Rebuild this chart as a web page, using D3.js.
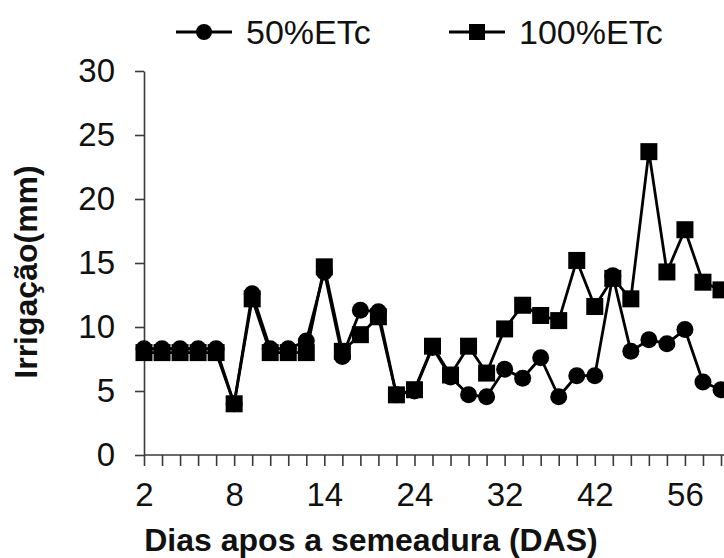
<!DOCTYPE html>
<html>
<head>
<meta charset="utf-8">
<script src="https://cdn.jsdelivr.net/npm/d3@7"></script>
<style>
  html, body { margin: 0; padding: 0; background: #fff; }
  svg { display: block; }
  text { font-family: "Liberation Sans", Arial, sans-serif; }
</style>
</head>
<body>
<svg id="chart" width="724" height="558"></svg>
<script>
// ---- data ----
const categoryIndex = d3.range(33); // sampling dates (DAS), evenly spaced categories
const tickLabels = ["2", "8", "14", "24", "32", "42", "56"];
const tickLabelIndex = [0, 5, 10, 15, 20, 25, 30];
const etc50 = [8.3, 8.3, 8.3, 8.3, 8.3, 4.0, 12.6, 8.3, 8.3, 8.9, 14.3, 7.7, 11.3, 11.2, 4.7, 5.0, 8.4,
               6.1, 4.7, 4.55, 6.7, 6.0, 7.6, 4.55, 6.2, 6.2, 14.0, 8.1, 9.0, 8.7, 9.8, 5.7, 5.1];
const etc100 = [8.0, 8.0, 8.0, 8.0, 8.0, 4.0, 12.2, 8.0, 8.0, 8.0, 14.7, 8.1, 9.4, 10.8, 4.7, 5.1, 8.5,
                6.25, 8.5, 6.4, 9.85, 11.7, 10.9, 10.5, 15.2, 11.6, 13.8, 12.2, 23.7, 14.3, 17.6, 13.5, 12.9];
const yTicks = [0, 5, 10, 15, 20, 25, 30];
const seriesNames = ["50%ETc", "100%ETc"];

// ---- layout ----
const svg = d3.select("#chart");
const x = d3.scaleLinear().domain([0, 32]).range([144, 721]);
const y = d3.scaleLinear().domain([0, 30]).range([455, 71]);
const axisColor = "#3a3a3a";

// x axis
const allTicks = d3.range(0, 34);
const xAxis = d3.axisBottom(x)
  .tickValues(allTicks)
  .tickSize(11)
  .tickSizeOuter(0)
  .tickPadding(17)
  .tickFormat(d => {
    const k = tickLabelIndex.indexOf(d);
    return k >= 0 ? tickLabels[k] : "";
  });
const gx = svg.append("g").attr("transform", "translate(0,455)").call(xAxis);
gx.select(".domain").attr("d", "M144,0H740");
gx.selectAll("line").attr("stroke", axisColor).attr("stroke-width", 1.6);
gx.select(".domain").attr("stroke", axisColor).attr("stroke-width", 1.6);
gx.selectAll("text").attr("font-size", 33).attr("fill", "#111").attr("font-family", "Liberation Sans, Arial, sans-serif");

// y axis
const yAxis = d3.axisLeft(y).tickValues(yTicks).tickSize(9).tickSizeOuter(0).tickPadding(20);
const gy = svg.append("g").attr("transform", "translate(144,0)").call(yAxis);
gy.selectAll("line").attr("stroke", axisColor).attr("stroke-width", 1.6);
gy.select(".domain").attr("stroke", axisColor).attr("stroke-width", 1.6);
gy.selectAll("text").attr("font-size", 33).attr("fill", "#111").attr("font-family", "Liberation Sans, Arial, sans-serif");

// axis titles
svg.append("text")
  .attr("x", 371).attr("y", 551)
  .attr("text-anchor", "middle")
  .attr("font-size", 32).attr("font-weight", "bold").attr("fill", "#111")
  .text("Dias apos a semeadura (DAS)");
svg.append("text")
  .attr("transform", "translate(37,272) rotate(-90)")
  .attr("text-anchor", "middle")
  .attr("font-size", 32).attr("font-weight", "bold").attr("fill", "#111")
  .text("Irrigação(mm)");

// lines
const line = d3.line().x((d, i) => x(categoryIndex[i])).y(d => y(d));
const plot = svg.append("g");
plot.append("path").datum(etc50).attr("d", line)
  .attr("fill", "none").attr("stroke", "#000").attr("stroke-width", 2.8).attr("stroke-linejoin", "round");
plot.append("path").datum(etc100).attr("d", line)
  .attr("fill", "none").attr("stroke", "#000").attr("stroke-width", 2.8).attr("stroke-linejoin", "round");

// markers
plot.selectAll("circle.m50").data(etc50).join("circle")
  .attr("class", "m50")
  .attr("cx", (d, i) => x(categoryIndex[i])).attr("cy", d => y(d))
  .attr("r", 8.5).attr("fill", "#000");
const sq = 17;
plot.selectAll("rect.m100").data(etc100).join("rect")
  .attr("class", "m100")
  .attr("x", (d, i) => x(categoryIndex[i]) - sq / 2).attr("y", d => y(d) - sq / 2)
  .attr("width", sq).attr("height", sq).attr("fill", "#000");

// legend
const legend = svg.append("g");
const legendItems = [
  { name: seriesNames[0], x0: 176, shape: "circle" },
  { name: seriesNames[1], x0: 449, shape: "square" }
];
legendItems.forEach(it => {
  const g = legend.append("g").attr("transform", `translate(${it.x0},32)`);
  g.append("line").attr("x1", 0).attr("x2", 56).attr("y1", 0).attr("y2", 0)
    .attr("stroke", "#000").attr("stroke-width", 2.8);
  if (it.shape === "circle") {
    g.append("circle").attr("cx", 28).attr("cy", 0).attr("r", 8).attr("fill", "#000");
  } else {
    g.append("rect").attr("x", 20).attr("y", -8).attr("width", 16).attr("height", 16).attr("fill", "#000");
  }
  g.append("text").attr("x", 70).attr("y", 11.5)
    .attr("font-size", 34).attr("fill", "#111").text(it.name);
});
</script>
</body>
</html>
